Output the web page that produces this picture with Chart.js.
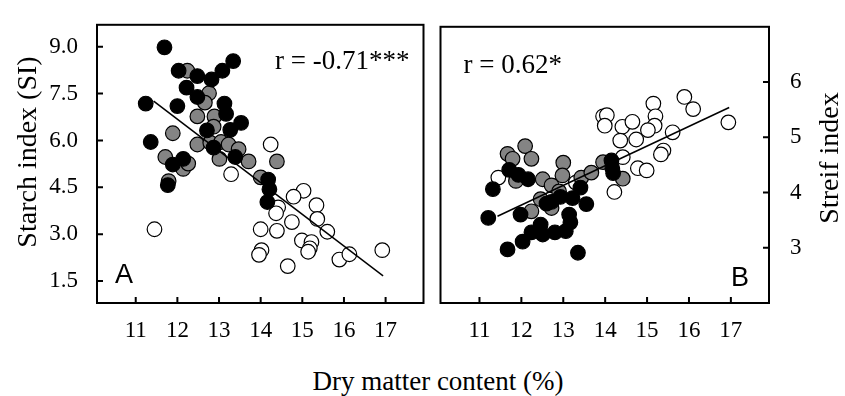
<!DOCTYPE html>
<html>
<head>
<meta charset="utf-8">
<script src="https://cdn.jsdelivr.net/npm/chart.js@4.4.0/dist/chart.umd.min.js"></script>
<style>
  body { margin: 0; background: #fff; }
  #wrap { position: relative; width: 845px; height: 396px; overflow: hidden; }
  #left { position: absolute; left: 0; top: 0; }
  #right { position: absolute; left: 432px; top: 0; }
  #xtitle { position: absolute; left: 238px; width: 400px; top: 368px; text-align: center;
            font: 27px "Liberation Serif"; line-height: 27px; color: #000; }
</style>
</head>
<body>
<div id="wrap">
  <canvas id="left" width="432" height="345"></canvas>
  <canvas id="right" width="413" height="345"></canvas>
  <div id="xtitle">Dry matter content (%)</div>
</div>
<script>
// Panel A - starch index
const blackA_x = [11.69, 12.03, 12.48, 12.82, 13.08, 13.34, 12.22, 12.48, 11.24, 12.00, 13.13, 13.17, 13.53, 13.27, 12.71, 11.36, 12.87, 13.39, 12.14, 11.89, 11.77, 14.18, 14.21, 14.16];
const blackA_y = [8.98, 8.23, 8.06, 7.95, 8.23, 8.54, 7.69, 7.39, 7.18, 7.10, 7.18, 6.85, 6.56, 6.34, 6.32, 5.95, 5.77, 5.47, 5.41, 5.23, 4.57, 4.75, 4.44, 4.03];
const grayA_x = [12.24, 12.76, 12.66, 12.48, 12.89, 12.87, 11.89, 12.48, 12.79, 13.05, 13.23, 13.47, 13.01, 13.71, 14.39, 11.71, 12.14, 12.26, 14.00, 11.79];
const grayA_y = [8.23, 7.51, 7.21, 6.77, 6.77, 6.44, 6.23, 5.87, 5.93, 5.95, 5.87, 5.72, 5.41, 5.33, 5.33, 5.47, 5.09, 5.26, 4.82, 4.70];
const whiteA_x = [14.24, 13.29, 11.45, 15.03, 14.79, 14.42, 14.37, 15.34, 15.36, 14.75, 14.00, 14.39, 15.60, 14.99, 15.22, 15.18, 14.02, 13.96, 15.14, 14.65, 15.89, 16.13, 16.92];
const whiteA_y = [5.87, 4.92, 3.16, 4.39, 4.20, 3.86, 3.67, 3.93, 3.49, 3.39, 3.16, 3.11, 3.08, 2.80, 2.75, 2.55, 2.49, 2.34, 2.44, 1.98, 2.19, 2.36, 2.49];
const trendA_x = [11.43, 16.94];
const trendA_y = [7.26, 1.67];

// Panel B - streif index
const blackB_x = [11.32, 11.21, 11.67, 11.71, 11.93, 12.16, 11.98, 12.03, 12.24, 12.46, 12.51, 12.80, 13.06, 13.14, 13.17, 12.72, 12.93, 13.22, 13.41, 13.55, 13.35, 14.15, 14.17, 14.19, 12.60];
const blackB_y = [4.06, 3.54, 2.97, 4.41, 4.32, 4.24, 3.60, 3.11, 3.28, 3.42, 3.24, 3.28, 3.30, 3.60, 3.46, 3.83, 3.92, 3.90, 4.09, 3.79, 2.91, 4.58, 4.44, 4.35, 3.80];
const grayB_x = [12.09, 11.67, 11.79, 12.24, 13.00, 12.98, 12.51, 12.72, 11.87, 13.43, 13.67, 13.95, 14.42, 12.46, 12.24, 12.72, 12.90];
const grayB_y = [4.84, 4.70, 4.61, 4.61, 4.54, 4.31, 4.24, 4.13, 4.21, 4.27, 4.36, 4.55, 4.25, 3.88, 3.66, 3.72, 4.02];
const whiteB_x = [15.89, 16.10, 16.94, 15.15, 15.20, 15.18, 15.02, 15.61, 13.95, 14.04, 13.99, 14.41, 14.65, 14.36, 14.74, 14.42, 14.78, 14.99, 15.39, 15.33, 14.22, 11.45, 13.30];
const whiteB_y = [5.73, 5.51, 5.27, 5.61, 5.38, 5.21, 5.13, 5.09, 5.38, 5.40, 5.21, 5.19, 5.28, 4.94, 4.96, 4.64, 4.44, 4.40, 4.76, 4.69, 4.01, 4.27, 4.18];
const trendB_x = [11.43, 16.96];
const trendB_y = [3.57, 5.54];

// tick labels
const xTicks = [11, 12, 13, 14, 15, 16, 17];
const yTicksA = [1.5, 3.0, 4.5, 6.0, 7.5, 9.0];
const yTickLabelsA = ['1.5', '3.0', '4.5', '6.0', '7.5', '9.0'];
const yTicksB = [3, 4, 5, 6];
const yTickLabelsB = ['3', '4', '5', '6'];

const SERIF = '"Liberation Serif", "Times New Roman", serif';
const SANS = '"Liberation Sans", Arial, sans-serif';

function pts(xs, ys) {
    return xs.map((x, i) => ({ x: x, y: ys[i] }));
}

function labelFor(v, vals, labels) {
    const i = vals.findIndex(t => Math.abs(t - v) < 1e-6);
    return i >= 0 ? labels[i] : '';
}

// frame, inward ticks and texts
const framePlugin = {
    id: 'frame',
    afterDraw(chart, args, opts) {
        const { ctx, chartArea: a, scales } = chart;
        ctx.save();
        ctx.strokeStyle = '#000';
        ctx.lineWidth = 2;
        ctx.beginPath();
        scales.x.ticks.forEach(t => {
            const px = scales.x.getPixelForValue(t.value);
            ctx.moveTo(px, a.bottom);
            ctx.lineTo(px, a.bottom - 6);
        });
        scales.y.ticks.forEach(t => {
            const py = scales.y.getPixelForValue(t.value);
            if (py < a.top + 2 || py > a.bottom - 2) return;
            if (opts.side === 'left') {
                ctx.moveTo(a.left, py);
                ctx.lineTo(a.left + 6, py);
            } else {
                ctx.moveTo(a.right, py);
                ctx.lineTo(a.right - 6, py);
            }
        });
        ctx.stroke();
        ctx.strokeRect(a.left, a.top, a.right - a.left, a.bottom - a.top);

        ctx.fillStyle = '#000';
        ctx.textBaseline = 'alphabetic';
        opts.texts.forEach(t => {
            ctx.font = t.font;
            ctx.textAlign = t.align;
            const x = (t.fromRight ? a.right : a.left) + t.dx;
            const y = (t.fromBottom ? a.bottom : a.top) + t.dy;
            ctx.fillText(t.text, x, y);
        });
        const tt = opts.title;
        ctx.font = tt.font;
        ctx.textAlign = 'center';
        ctx.translate(tt.x, tt.y);
        ctx.rotate(-Math.PI / 2);
        ctx.fillText(tt.text, 0, 0);
        ctx.restore();
    }
};

function makeDatasets(trX, trY, bx, by, gx, gy, wx, wy) {
    const dot = { pointRadius: 7.3, pointBorderColor: '#000', pointBorderWidth: 1.2, showLine: false };
    return [
        { type: 'line', data: pts(trX, trY), borderColor: '#000', borderWidth: 1.5, pointRadius: 0, fill: false },
        Object.assign({ type: 'scatter', data: pts(bx, by), pointBackgroundColor: '#000' }, dot),
        Object.assign({ type: 'scatter', data: pts(gx, gy), pointBackgroundColor: '#848484' }, dot),
        Object.assign({ type: 'scatter', data: pts(wx, wy), pointBackgroundColor: '#fff' }, dot)
    ];
}

function xScale() {
    return {
        type: 'linear', min: 10.07, max: 17.91,
        grid: { display: false }, border: { display: false },
        ticks: { stepSize: 1, includeBounds: false, maxTicksLimit: 20, color: '#000', padding: 6,
                 font: { family: SERIF, size: 23 }, maxRotation: 0,
                 callback: v => labelFor(v, xTicks, xTicks.map(String)) },
        afterFit: s => { s.height = 42; }
    };
}

const common = {
    responsive: false,
    animation: false,
    events: [],
    plugins: { legend: { display: false }, tooltip: { enabled: false } }
};

new Chart(document.getElementById('left'), {
    type: 'scatter',
    data: { datasets: makeDatasets(trendA_x, trendA_y, blackA_x, blackA_y, grayA_x, grayA_y, whiteA_x, whiteA_y) },
    options: Object.assign({}, common, {
        layout: { padding: { left: 0, top: 14, right: 6, bottom: 0 } },
        scales: {
            x: xScale(),
            y: {
                type: 'linear', position: 'left', min: 0.8, max: 9.7,
                grid: { display: false }, border: { display: false },
                ticks: { stepSize: 0.75, includeBounds: false, maxTicksLimit: 20, color: '#000', padding: 11,
                         font: { family: SERIF, size: 23 },
                         callback: v => labelFor(v, yTicksA, yTickLabelsA) },
                afterFit: s => { s.width = 97; }
            }
        },
        plugins: Object.assign({}, common.plugins, {
            frame: {
                side: 'left',
                texts: [
                    { text: 'r = -0.71***', font: '27px ' + SERIF, align: 'right', fromRight: true, dx: -14, dy: 44 },
                    { text: 'A', font: '27px ' + SANS, align: 'left', dx: 18, fromBottom: true, dy: -20 }
                ],
                title: { text: 'Starch index (SI)', font: '28px ' + SERIF, x: 36, y: 152 }
            }
        })
    }),
    plugins: [framePlugin]
});

new Chart(document.getElementById('right'), {
    type: 'scatter',
    data: { datasets: makeDatasets(trendB_x, trendB_y, blackB_x, blackB_y, grayB_x, grayB_y, whiteB_x, whiteB_y) },
    options: Object.assign({}, common, {
        layout: { padding: { left: 7, top: 14, right: 0, bottom: 0 } },
        scales: {
            x: xScale(),
            y: {
                type: 'linear', position: 'right', min: 2, max: 7,
                grid: { display: false }, border: { display: false },
                ticks: { stepSize: 0.5, includeBounds: false, maxTicksLimit: 20, color: '#000', padding: 13,
                         font: { family: SERIF, size: 23 },
                         callback: v => labelFor(v, yTicksB, yTickLabelsB) },
                afterFit: s => { s.width = 76; }
            }
        },
        plugins: Object.assign({}, common.plugins, {
            frame: {
                side: 'right',
                texts: [
                    { text: 'r = 0.62*', font: '27px ' + SERIF, align: 'left', dx: 23, dy: 46 },
                    { text: 'B', font: '27px ' + SANS, align: 'right', fromRight: true, dx: -20, fromBottom: true, dy: -17 }
                ],
                title: { text: 'Streif index', font: '28px ' + SERIF, x: 406, y: 158 }
            }
        })
    }),
    plugins: [framePlugin]
});
</script>
</body>
</html>
